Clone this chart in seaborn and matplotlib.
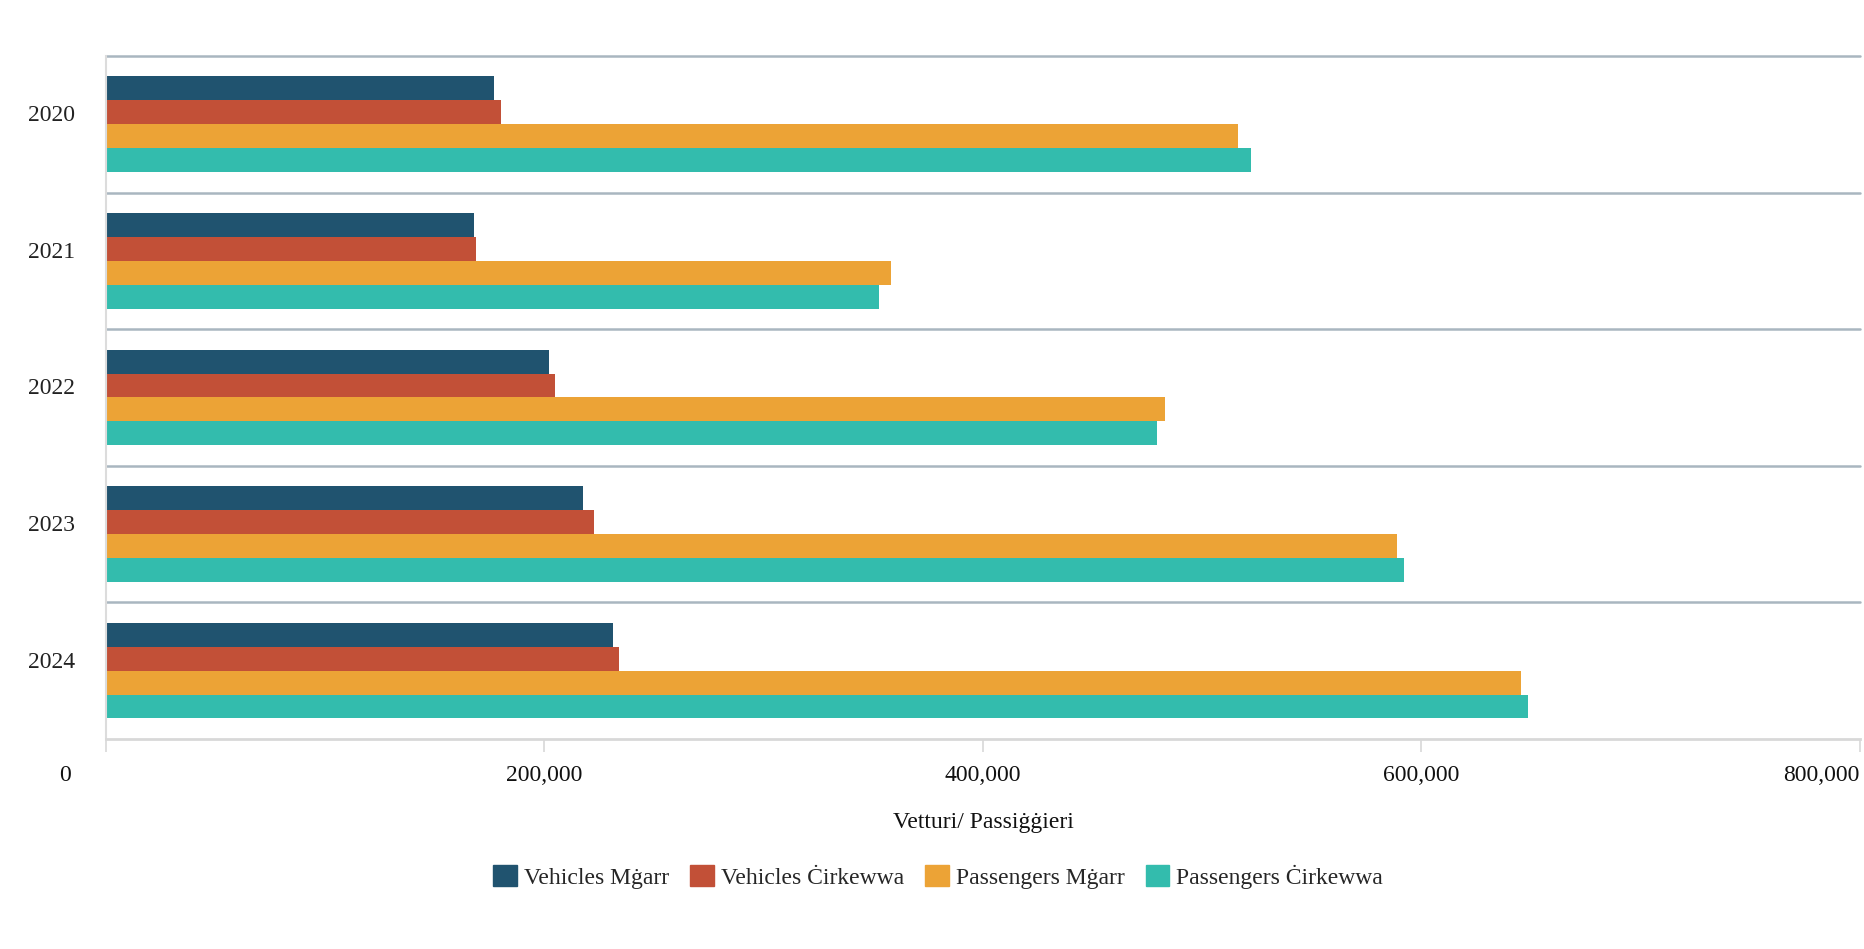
import pandas as pd
import numpy as np
import matplotlib
matplotlib.use('Agg')
import matplotlib.pyplot as plt
import matplotlib.transforms as mtransforms
from matplotlib.patches import Patch
import seaborn as sns

years = ['2020', '2021', '2022', '2023', '2024']
vehicles_mgarr = [177000, 167700, 201900, 217600, 231200]
vehicles_cirkewwa = [180200, 168800, 204600, 222500, 233900]
passengers_mgarr = [516100, 358200, 483000, 588800, 645300]
passengers_cirkewwa = [522100, 352800, 479200, 592100, 648500]

series = ['Vehicles Mġarr', 'Vehicles Ċirkewwa', 'Passengers Mġarr', 'Passengers Ċirkewwa']
colors = ['#20536f', '#c25037', '#eca336', '#33bcad']

df = pd.DataFrame({
    'year': years * 4,
    'series': np.repeat(series, len(years)),
    'value': vehicles_mgarr + vehicles_cirkewwa + passengers_mgarr + passengers_cirkewwa,
})

sns.set_style('white')
plt.rcParams['font.family'] = ['Liberation Serif', 'DejaVu Serif']

fig = plt.figure(figsize=(18.65, 9.49), dpi=100)
ax = fig.add_axes([0.0568, 0.2213, 0.9405, 0.7197])

sns.barplot(data=df, y='year', x='value', hue='series', hue_order=series,
            palette=colors, orient='h', width=0.7, saturation=1,
            linewidth=0, legend=False, ax=ax)

ax.set_xlim(0, 800000)
ax.set_ylim(4.5, -0.5)

# category separators
for y in np.arange(-0.5, 4.0, 1.0):
    ax.axhline(y, color='#a9b6c0', lw=1.8, zorder=0.5, clip_on=False)

for s in ['top', 'right']:
    ax.spines[s].set_visible(False)
ax.spines['left'].set_color('#dcdcdc')
ax.spines['left'].set_linewidth(1.5)
ax.spines['bottom'].set_color('#d8d8d8')
ax.spines['bottom'].set_linewidth(2)

ticks = [0, 200000, 400000, 600000, 800000]
ax.set_xticks(ticks)
ax.set_xticklabels([f'{t:,}' for t in ticks])
ax.tick_params(axis='x', length=9.5, width=1.2, color='#d8d8d8', pad=9,
               labelsize=17, labelcolor='#111111', bottom=True)
ax.tick_params(axis='y', length=0, pad=22, labelsize=17, labelcolor='#222222')

labels = ax.get_xticklabels()
labels[0].set_transform(labels[0].get_transform() +
                        mtransforms.ScaledTranslation(-0.41, 0, fig.dpi_scale_trans))
labels[-1].set_horizontalalignment('right')

# year labels sit a little above the middle of each group
for lab in ax.get_yticklabels():
    lab.set_transform(lab.get_transform() +
                      mtransforms.ScaledTranslation(0, 0.11, fig.dpi_scale_trans))

ax.set_ylabel('')
ax.set_xlabel('Vetturi/ Passiġġieri', fontsize=17, color='#111111', labelpad=19)

handles = [Patch(facecolor=c, edgecolor=c, label=s) for c, s in zip(colors, series)]
fig.legend(handles=handles, loc='center', bbox_to_anchor=(0.503, 0.076), ncol=4,
           frameon=False, fontsize=17, handlelength=1.0, handleheight=1.0,
           handletextpad=0.3, columnspacing=0.9)

fig.savefig('out.png', dpi=100, facecolor='white')
